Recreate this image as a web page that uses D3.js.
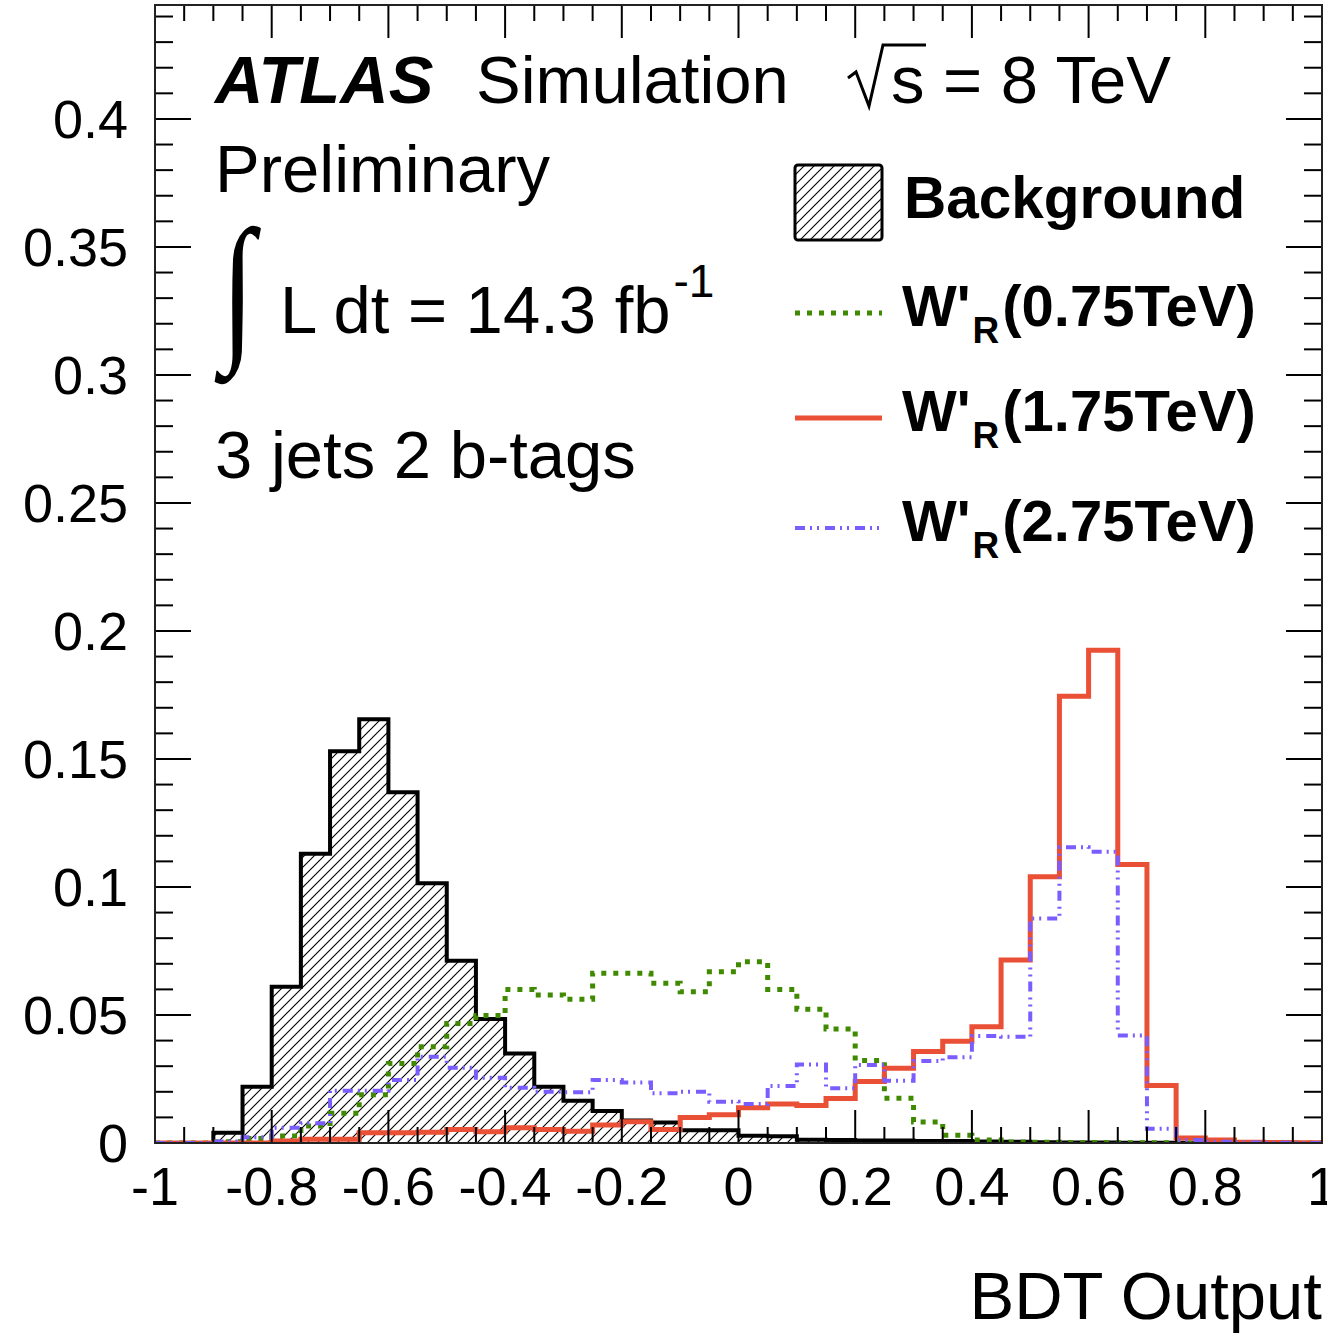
<!DOCTYPE html>
<html lang="en">
<head>
<meta charset="UTF-8">
<title>BDT Output</title>
<script src="https://d3js.org/d3.v7.min.js"></script>
<style>
	body { margin: 0; background: #fff; }
	svg { display: block; font-family: "Liberation Sans", Arial, sans-serif; }
</style>
</head>
<body>
<svg id="chart" width="1327" height="1335"></svg>
<script>
// bin lower edges, 40 bins of 0.05 from -1 to 1
const binEdges = d3.range(41).map(i => -1 + i * 0.05);

// normalised distributions, one value per bin
const background = [0, 0, 0.004, 0.022, 0.061, 0.113, 0.153, 0.1655, 0.137, 0.1015,
	0.0712, 0.0484, 0.035, 0.022, 0.0165, 0.0125, 0.0088, 0.008, 0.005, 0.005,
	0.0028, 0.0026, 0.0013, 0.0012, 0.001, 0.001, 0.0008, 0.0008, 0.0006, 0.0005,
	0.0003, 0.0002, 0.0002, 0.0001, 0.0001, 0.0001, 0, 0, 0, 0];
const wr075 = [0, 0, 0.0005, 0.0018, 0.0027, 0.0066, 0.0116, 0.0188, 0.0311, 0.0376,
	0.0467, 0.0498, 0.060, 0.0578, 0.0561, 0.0663, 0.0663, 0.0624, 0.0591, 0.0669,
	0.0708, 0.060, 0.0522, 0.0445, 0.0322, 0.0175, 0.0082, 0.003, 0.0012, 0.0004,
	0.0003, 0.0002, 0.0002, 0.0001, 0.0001, 0, 0, 0, 0, 0];
const wr175 = [0, 0, 0, 0, 0.0008, 0.0015, 0.0015, 0.004, 0.004, 0.0042,
	0.0053, 0.0044, 0.006, 0.0053, 0.0046, 0.007, 0.0083, 0.0053, 0.010, 0.011,
	0.0138, 0.0152, 0.0146, 0.0174, 0.024, 0.0292, 0.0357, 0.0397, 0.0454, 0.0715,
	0.104, 0.1745, 0.1925, 0.1088, 0.0225, 0.002, 0.0012, 0.0003, 0.0002, 0.0001];
const wr275 = [0, 0, 0.0006, 0.0022, 0.006, 0.0077, 0.0204, 0.0204, 0.0246, 0.0337,
	0.0294, 0.0255, 0.0216, 0.020, 0.0198, 0.0246, 0.0236, 0.0194, 0.020, 0.0161,
	0.0152, 0.0223, 0.0307, 0.0214, 0.0305, 0.0243, 0.032, 0.0335, 0.0418, 0.0415,
	0.0877, 0.1155, 0.1138, 0.042, 0.0056, 0.0012, 0.0005, 0.0002, 0.0001, 0];

const xTickLabels = ["-1", "-0.8", "-0.6", "-0.4", "-0.2", "0", "0.2", "0.4", "0.6", "0.8", "1"];
const yTickLabels = ["0", "0.05", "0.1", "0.15", "0.2", "0.25", "0.3", "0.35", "0.4"];

const legendNames = ["Background", "0.75TeV", "1.75TeV", "2.75TeV"];

const svg = d3.select("#chart");
const fLeft = 155, fRight = 1322, fTop = 5, fBottom = 1143;

const x = d3.scaleLinear().domain([-1, 1]).range([fLeft, fRight]);
const y = d3.scaleLinear().domain([0, 0.4445]).range([fBottom, fTop]);

// hatch pattern for the background
const defs = svg.append("defs");
const pat = defs.append("pattern")
	.attr("id", "hatch")
	.attr("patternUnits", "userSpaceOnUse")
	.attr("width", 10).attr("height", 10);
pat.append("path")
	.attr("d", "M0,10 L10,0 M-2.5,2.5 L2.5,-2.5 M7.5,12.5 L12.5,7.5")
	.attr("stroke", "#000").attr("stroke-width", 1.1);
defs.append("clipPath").attr("id", "frameClip")
	.append("rect").attr("x", fLeft).attr("y", fTop)
	.attr("width", fRight - fLeft).attr("height", fBottom - fTop);

function histPoints(vals) {
	const pts = vals.map((v, i) => [binEdges[i], v]);
	pts.push([1, vals[vals.length - 1]]);
	return pts;
}

const stepLine = d3.line()
	.x(d => x(d[0]))
	.y(d => y(d[1]))
	.curve(d3.curveStepAfter);

const stepArea = d3.area()
	.x(d => x(d[0]))
	.y0(y(0))
	.y1(d => y(d[1]))
	.curve(d3.curveStepAfter);

const plot = svg.append("g").attr("clip-path", "url(#frameClip)");

// background: hatched fill + black outline
plot.append("path")
	.datum(histPoints(background))
	.attr("d", stepArea)
	.attr("fill", "url(#hatch)");
plot.append("path")
	.datum(histPoints(background))
	.attr("d", stepLine)
	.attr("fill", "none")
	.attr("stroke", "#000")
	.attr("stroke-width", 4);

const styles = [
	{data: wr075, color: "#3f8a00", width: 5, dash: "5,7"},
	{data: wr175, color: "#ea5035", width: 5, dash: null},
	{data: wr275, color: "#7a5cff", width: 4, dash: "10,5,2,5,2,6"}
];

styles.forEach(s => {
	plot.append("path")
		.datum(histPoints(s.data))
		.attr("d", stepLine)
		.attr("fill", "none")
		.attr("stroke", s.color)
		.attr("stroke-width", s.width)
		.attr("stroke-dasharray", s.dash);
});

// axes with ROOT style ticks on all four sides
const axisG = svg.append("g").attr("stroke", "#000").attr("stroke-width", 2);
const xMinor = d3.range(41).map(i => -1 + i * 0.05);
const yMinor = d3.range(45).map(i => i * 0.01);

xMinor.forEach((v, i) => {
	const len = (i % 4 === 0) ? 33 : 16;
	axisG.append("line").attr("x1", x(v)).attr("x2", x(v)).attr("y1", fBottom).attr("y2", fBottom - len);
	axisG.append("line").attr("x1", x(v)).attr("x2", x(v)).attr("y1", fTop).attr("y2", fTop + len);
});
yMinor.forEach((v, i) => {
	const len = (i % 5 === 0) ? 36 : 18;
	axisG.append("line").attr("y1", y(v)).attr("y2", y(v)).attr("x1", fLeft).attr("x2", fLeft + len);
	axisG.append("line").attr("y1", y(v)).attr("y2", y(v)).attr("x1", fRight).attr("x2", fRight - len);
});

svg.append("rect")
	.attr("x", fLeft).attr("y", fTop)
	.attr("width", fRight - fLeft).attr("height", fBottom - fTop)
	.attr("fill", "none").attr("stroke", "#222").attr("stroke-width", 2);

// tick labels
svg.append("g").selectAll("text")
	.data(xTickLabels)
	.join("text")
	.attr("x", d => x(+d))
	.attr("y", 1205)
	.attr("text-anchor", "middle")
	.attr("font-size", 54)
	.text(d => d);

svg.append("g").selectAll("text")
	.data(yTickLabels)
	.join("text")
	.attr("x", 128)
	.attr("y", d => y(+d) + 19)
	.attr("text-anchor", "end")
	.attr("font-size", 54)
	.text(d => d);

svg.append("text")
	.attr("x", fRight).attr("y", 1319)
	.attr("text-anchor", "end")
	.attr("font-size", 67)
	.text("BDT Output");

// labels in the top left
svg.append("text").attr("x", 215).attr("y", 103)
	.attr("font-size", 67).attr("font-weight", "bold").attr("font-style", "italic")
	.text("ATLAS");
svg.append("text").attr("x", 476).attr("y", 103)
	.attr("font-size", 67).text("Simulation");
svg.append("path")
	.attr("d", "M848,78 L856,72 L869,106 L883,45 L926,45")
	.attr("fill", "none").attr("stroke", "#000").attr("stroke-width", 3);
svg.append("text").attr("x", 891).attr("y", 103)
	.attr("font-size", 67).text("s = 8 TeV");
svg.append("text").attr("x", 215).attr("y", 192)
	.attr("font-size", 67).text("Preliminary");
svg.append("text")
	.attr("transform", "translate(221,341) scale(0.72,0.95)")
	.attr("font-size", 170).attr("font-family", "Liberation Serif, serif")
	.text("∫");
const lumi = svg.append("text").attr("x", 280).attr("y", 333).attr("font-size", 67);
lumi.append("tspan").text("L dt = 14.3 fb");
lumi.append("tspan").attr("dx", 3).attr("dy", -36).attr("font-size", 46).text("-1");
svg.append("text").attr("x", 215).attr("y", 478)
	.attr("font-size", 67).text("3 jets 2 b-tags");

// legend
const lg = svg.append("g");
lg.append("rect").attr("x", 795).attr("y", 165).attr("width", 87).attr("height", 75)
	.attr("rx", 3).attr("fill", "url(#hatch)").attr("stroke", "#000").attr("stroke-width", 3);
lg.append("text").attr("x", 904).attr("y", 218)
	.attr("font-size", 58.5).attr("font-weight", "bold").text(legendNames[0]);

const legendRows = [313, 418, 528];
styles.forEach((s, i) => {
	const ly = legendRows[i];
	lg.append("line").attr("x1", 795).attr("x2", 882).attr("y1", ly).attr("y2", ly)
		.attr("stroke", s.color).attr("stroke-width", s.width)
		.attr("stroke-dasharray", s.dash);
	const t = lg.append("text").attr("x", 902).attr("y", ly + 13)
		.attr("font-size", 58).attr("font-weight", "bold");
	t.append("tspan").text("W'");
	t.append("tspan").attr("dx", 2).attr("dy", 17).attr("font-size", 37).text("R");
	t.append("tspan").attr("dx", 3).attr("dy", -17).text("(" + legendNames[i + 1] + ")");
});
</script>
</body>
</html>
